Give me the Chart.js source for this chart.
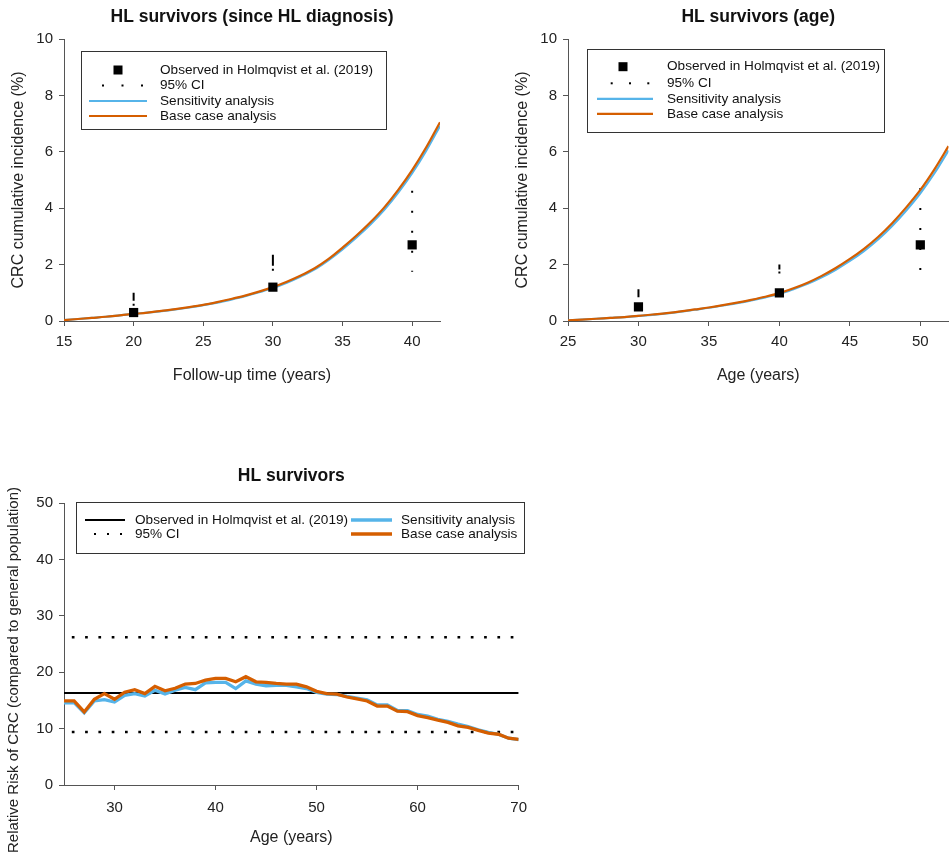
<!DOCTYPE html>
<html><head><meta charset="utf-8">
<script src="https://cdn.jsdelivr.net/npm/chart.js@4.4.1/dist/chart.umd.min.js"></script>
<style>
html,body{margin:0;padding:0;background:#fff;width:950px;height:852px;overflow:hidden;position:relative;}
canvas{position:absolute;}
</style></head><body>
<canvas id="c1" width="470" height="400" style="left:0;top:0"></canvas>
<canvas id="c2" width="479" height="400" style="left:476px;top:0"></canvas>
<canvas id="c3" width="536" height="412" style="left:0;top:440px"></canvas>
<script>
// ---------- DATA ----------
const fuYears = [15,16,17,18,19,20,21,22,23,24,25,26,27,28,29,30,31,32,33,34,35,36,37,38,39,40,41,42];
const fuBase  = [0.03,0.07,0.11,0.15,0.2,0.25,0.3,0.36,0.42,0.49,0.57,0.67,0.78,0.9,1.04,1.2,1.39,1.61,1.87,2.2,2.6,3.03,3.5,4.03,4.65,5.35,6.15,7.05];
const fuSens  = [0.03,0.07,0.11,0.15,0.2,0.25,0.3,0.35,0.41,0.48,0.56,0.65,0.76,0.88,1.02,1.17,1.36,1.58,1.83,2.16,2.54,2.96,3.42,3.94,4.55,5.24,6.03,6.92];
const fuObsX  = [20,30,40];
const fuObs   = [0.3,1.2,2.7];
const fuCiLow = [0.1,0.85,1.75];
const fuCiHigh= [1.0,2.35,4.62];

const ageYears = [25,26,27,28,29,30,31,32,33,34,35,36,37,38,39,40,41,42,43,44,45,46,47,48,49,50,51,52];
const ageBase  = [0.02,0.05,0.08,0.11,0.14,0.18,0.23,0.28,0.34,0.41,0.48,0.56,0.65,0.75,0.86,0.99,1.16,1.36,1.6,1.88,2.2,2.56,2.98,3.47,4.03,4.65,5.38,6.2];
const ageSens  = [0.02,0.05,0.08,0.11,0.14,0.18,0.22,0.27,0.33,0.4,0.47,0.55,0.63,0.73,0.84,0.96,1.13,1.32,1.55,1.82,2.13,2.48,2.89,3.37,3.92,4.53,5.24,6.05];
const ageObsX  = [30,40,50];
const ageObs   = [0.5,1.0,2.7];
const ageCiLow = [0.35,0.7,1.8];
const ageCiHigh= [1.13,2.0,4.72];

const rrAges = [25,26,27,28,29,30,31,32,33,34,35,36,37,38,39,40,41,42,43,44,45,46,47,48,49,50,51,52,53,54,55,56,57,58,59,60,61,62,63,64,65,66,67,68,69,70];
const rrBase = [14.9,14.9,12.95,15.2,16.2,15.2,16.45,16.9,16.2,17.5,16.7,17.15,17.9,18.0,18.6,18.9,18.9,18.3,19.2,18.3,18.2,18.0,17.9,17.9,17.4,16.6,16.2,16.1,15.6,15.25,14.9,14.0,14.0,13.1,13.0,12.3,11.95,11.5,11.1,10.5,10.2,9.7,9.2,9.0,8.3,8.1];
const rrSens = [14.55,14.6,12.8,14.9,15.15,14.7,15.9,16.2,15.8,16.8,16.15,16.8,17.3,16.9,18.1,18.2,18.2,17.1,18.45,17.9,17.6,17.65,17.65,17.4,17.1,16.4,16.1,16.05,15.7,15.4,15.1,14.2,14.2,13.2,13.2,12.5,12.2,11.65,11.3,10.8,10.35,9.8,9.35,9.0,8.3,8.05];
const rrObserved = 16.3;
const rrCiLow = 9.4;
const rrCiHigh = 26.2;

const titles = ['HL survivors (since HL diagnosis)','HL survivors (age)','HL survivors'];
const legendTop = ['Observed in Holmqvist et al. (2019)','95% CI','Sensitivity analysis','Base case analysis'];

// ---------- STYLE ----------
const FONT = '"Liberation Sans", Arial, Helvetica, sans-serif';
const BLUE = '#56B4E9', ORANGE = '#D55E00', AXIS = '#555', TXT = '#222';
Chart.defaults.font.family = FONT;
Chart.defaults.color = TXT;
// dash styles for the CI whiskers (as rendered in the original)
const fuCiDash  = [[8,3,2,40],[11,3,2,40],[2,18]];
const ageCiDash = [[8,40],[5,2,2,40],[2,18]];

const pts = (xs, ys) => xs.map((x, i) => ({x, y: ys[i]}));

const boxLegend = {
  id: 'boxLegend',
  afterDraw(chart, args, o) {
    if (!o || !o.box) return;
    const ctx = chart.ctx;
    ctx.save();
    ctx.strokeStyle = '#333'; ctx.lineWidth = 1;
    ctx.strokeRect(Math.round(o.box.x) + 0.5, Math.round(o.box.y) + 0.5, o.box.w, o.box.h);
    ctx.font = '13.6px ' + FONT; ctx.textBaseline = 'middle'; ctx.textAlign = 'left';
    for (const it of o.items) {
      if (it.kind === 'square') { ctx.fillStyle = '#000'; ctx.fillRect(it.mx - 4.5, it.y - 4.5, 9, 9); }
      else if (it.kind === 'dots') { ctx.fillStyle = '#000'; it.dots.forEach(d => ctx.fillRect(d - 1, it.y - 1, 2, 2)); }
      else if (it.kind === 'line') { ctx.strokeStyle = it.color; ctx.lineWidth = it.lw; ctx.beginPath(); ctx.moveTo(it.x1, it.y); ctx.lineTo(it.x2, it.y); ctx.stroke(); }
      ctx.fillStyle = '#111';
      ctx.fillText(it.text, it.tx, it.y);
    }
    ctx.restore();
  }
};
const sideTitle = {
  id: 'sideTitle',
  afterDraw(chart, args, o) {
    if (!o || !o.text) return;
    const ctx = chart.ctx;
    ctx.save(); ctx.translate(o.x, o.y); ctx.rotate(-Math.PI / 2);
    ctx.font = o.font; ctx.fillStyle = TXT; ctx.textAlign = 'center'; ctx.textBaseline = 'middle';
    ctx.fillText(o.text, 0, 0); ctx.restore();
  }
};

function xScale(min, max, step, title, height, tickPad, titlePadBottom) {
  return {
    type: 'linear', min, max,
    ticks: { stepSize: step, font: { size: 15 }, color: TXT, padding: tickPad, maxRotation: 0 },
    afterBuildTicks(s) { s.ticks = s.ticks.filter(t => Math.abs(t.value / step - Math.round(t.value / step)) < 1e-9); },
    grid: { display: true, drawOnChartArea: false, drawTicks: true, tickLength: 5, color: AXIS, lineWidth: 1 },
    border: { display: true, color: AXIS, width: 1 },
    title: { display: true, text: title, font: { size: 16 }, color: TXT, padding: { top: 0, bottom: titlePadBottom } },
    afterFit(s) { s.height = height; }
  };
}
function yScale(min, max, step, title) {
  return {
    type: 'linear', min, max,
    ticks: { stepSize: step, font: { size: 15 }, color: TXT, padding: 6 },
    grid: { display: true, drawOnChartArea: false, drawTicks: true, tickLength: 5, color: AXIS, lineWidth: 1 },
    border: { display: true, color: AXIS, width: 1 },
    title: { display: !!title, text: title || '', font: { size: 16 }, color: TXT, padding: { top: 8.5, bottom: 0 } },
    afterFit(s) { s.width = 64; }
  };
}
function titleOpt(text, padTop, padBottom) {
  return { display: true, text, fullSize: false, font: { size: 17.5, weight: 'bold' }, color: '#111', padding: { top: padTop, bottom: padBottom } };
}
function ciSets(xs, lo, hi, dashes) {
  return xs.map((x, i) => ({
    label: 'ci' + i, data: [{x, y: hi[i]}, {x, y: lo[i]}],
    borderColor: '#000', borderWidth: 2, borderDash: dashes[i], borderCapStyle: 'butt',
    pointRadius: 0, order: 5, tension: 0
  }));
}
function cumChart(id, xs, base, sens, ox, obs, lo, hi, dashes, xmin, xmax, xtitle, title, padLeft, padRight, legend) {
  return new Chart(document.getElementById(id), {
    type: 'line',
    data: {
      datasets: [
        { label: legendTop[0], data: pts(ox, obs), showLine: false, pointStyle: 'rect', pointRadius: 6.5,
          pointBackgroundColor: '#000', pointBorderColor: '#000', pointBorderWidth: 0, order: 0 },
        { label: legendTop[3], data: pts(xs, base), borderColor: ORANGE, borderWidth: 2.2, pointRadius: 0,
          cubicInterpolationMode: 'monotone', order: 1 },
        { label: legendTop[2], data: pts(xs, sens), borderColor: BLUE, borderWidth: 2.2, pointRadius: 0,
          cubicInterpolationMode: 'monotone', order: 2 },
        ...ciSets(ox, lo, hi, dashes)
      ]
    },
    options: {
      responsive: false, animation: false, events: [],
      layout: { padding: { left: padLeft, right: padRight, top: 0, bottom: 0 } },
      scales: { x: xScale(xmin, xmax, 5, xtitle, 79, 7, 14.4), y: yScale(0, 10, 2, 'CRC cumulative incidence (%)') },
      plugins: { legend: { display: false }, tooltip: { enabled: false },
        title: titleOpt(title, 6.5, 11.5), boxLegend: legend }
    },
    plugins: [boxLegend]
  });
}

cumChart('c1', fuYears, fuBase, fuSens, fuObsX, fuObs, fuCiLow, fuCiHigh, fuCiDash, 15, 42, 'Follow-up time (years)', titles[0], 0, 30, {
  box: { x: 81, y: 51, w: 305, h: 78 },
  items: [
    { kind: 'square', mx: 118, y: 70, text: legendTop[0], tx: 160 },
    { kind: 'dots', dots: [103, 122.5, 142], y: 85.5, text: legendTop[1], tx: 160 },
    { kind: 'line', color: BLUE, lw: 2.2, x1: 89, x2: 147, y: 101, text: legendTop[2], tx: 160 },
    { kind: 'line', color: ORANGE, lw: 2.2, x1: 89, x2: 147, y: 116, text: legendTop[3], tx: 160 }
  ]
});
cumChart('c2', ageYears, ageBase, ageSens, ageObsX, ageObs, ageCiLow, ageCiHigh, ageCiDash, 25, 52, 'Age (years)', titles[1], 28, 0, {
  box: { x: 111, y: 49, w: 297, h: 83 },
  items: [
    { kind: 'square', mx: 147, y: 66.7, text: legendTop[0], tx: 191 },
    { kind: 'dots', dots: [135.7, 154, 172.3], y: 83.3, text: legendTop[1], tx: 191 },
    { kind: 'line', color: BLUE, lw: 2.2, x1: 121, x2: 177, y: 98.8, text: legendTop[2], tx: 191 },
    { kind: 'line', color: ORANGE, lw: 2.2, x1: 121, x2: 177, y: 113.8, text: legendTop[3], tx: 191 }
  ]
});

new Chart(document.getElementById('c3'), {
  type: 'line',
  data: {
    datasets: [
      { label: legendTop[3], data: pts(rrAges, rrBase), borderColor: ORANGE, borderWidth: 3.3, pointRadius: 0, tension: 0, order: 0 },
      { label: legendTop[2], data: pts(rrAges, rrSens), borderColor: BLUE, borderWidth: 3.3, pointRadius: 0, tension: 0, order: 1 },
      { label: legendTop[0], data: [{x: 25, y: rrObserved}, {x: 70, y: rrObserved}], borderColor: '#000', borderWidth: 2, pointRadius: 0, order: 2 },
      { label: 'ciLow', data: [{x: 25, y: rrCiLow}, {x: 70, y: rrCiLow}], borderColor: '#000', borderWidth: 2.5,
        borderDash: [2.7, 10.6], borderDashOffset: 5.5, borderCapStyle: 'butt', pointRadius: 0, order: 3 },
      { label: 'ciHigh', data: [{x: 25, y: rrCiHigh}, {x: 70, y: rrCiHigh}], borderColor: '#000', borderWidth: 2.5,
        borderDash: [2.7, 10.6], borderDashOffset: 5.5, borderCapStyle: 'butt', pointRadius: 0, order: 3 }
    ]
  },
  options: {
    responsive: false, animation: false, events: [],
    layout: { padding: { left: 0, right: 12, top: 0, bottom: 0 } },
    scales: { x: xScale(25, 70, 10, 'Age (years)', 67, 9, 4.4), y: yScale(0, 50, 10, null) },
    plugins: { legend: { display: false }, tooltip: { enabled: false },
      title: titleOpt(titles[2], 25.5, 16.5),
      sideTitle: { text: 'Relative Risk of CRC (compared to general population)', x: 14, y: 230, font: '15px ' + FONT },
      boxLegend: {
        box: { x: 76, y: 62, w: 448, h: 51 },
        items: [
          { kind: 'line', color: '#000', lw: 2, x1: 85, x2: 125, y: 80, text: legendTop[0], tx: 135 },
          { kind: 'dots', dots: [95, 108, 121], y: 94, text: legendTop[1], tx: 135 },
          { kind: 'line', color: BLUE, lw: 3.3, x1: 351, x2: 392, y: 80, text: legendTop[2], tx: 401 },
          { kind: 'line', color: ORANGE, lw: 3.3, x1: 351, x2: 392, y: 94, text: legendTop[3], tx: 401 }
        ]
      }
    }
  },
  plugins: [boxLegend, sideTitle]
});
</script></body></html>
